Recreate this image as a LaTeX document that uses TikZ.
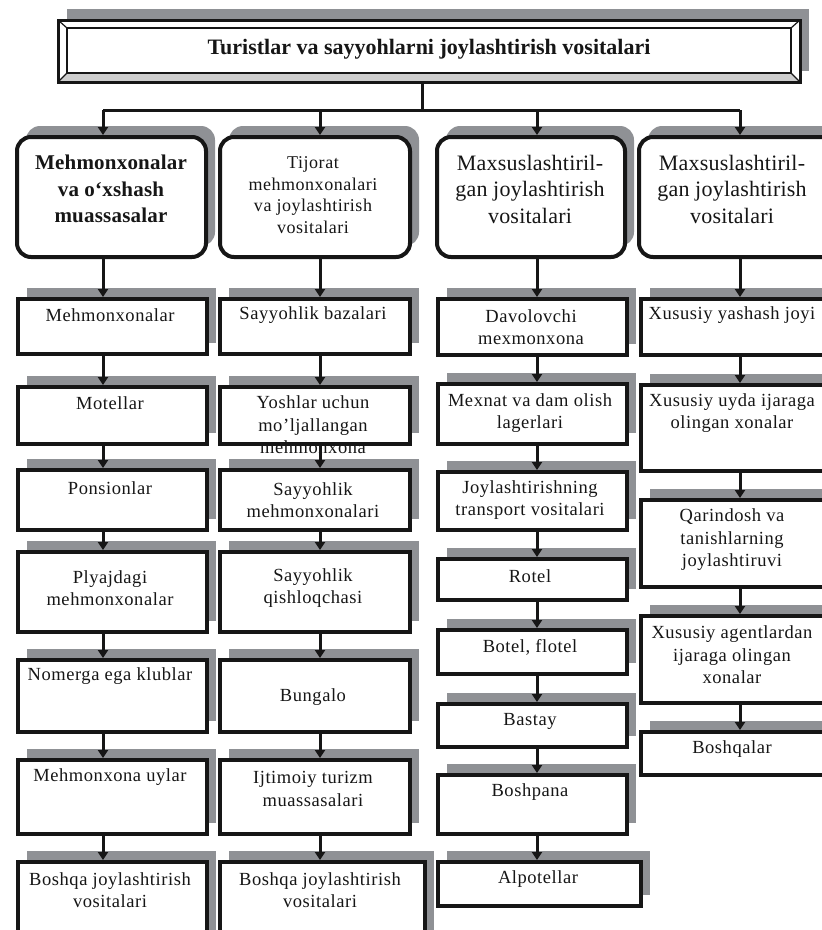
\documentclass[tikz,border=0pt]{standalone}
\usepackage{fontspec}
\setmainfont{Liberation Serif}
\newfontfamily\kfam[LetterSpace=3]{Liberation Serif}
\newfontfamily\hfam[LetterSpace=1]{Liberation Serif}
\usetikzlibrary{arrows.meta,shadows}
\definecolor{ink}{RGB}{22,22,22}
\definecolor{shgray}{RGB}{143,145,149}
\definecolor{bandgray}{RGB}{205,205,205}
\tikzset{
  ln/.style={draw=ink, line width=3pt},
  arr/.style={ln, -{Triangle[width=10pt,length=8pt]}},
  kbox/.style={draw=ink, line width=3.5pt, fill=white, anchor=north west,
    drop shadow={shadow xshift=9pt, shadow yshift=11pt, fill=shgray, opacity=1}},
  lbox/.style={kbox, rounded corners=14pt, line width=4pt},
  ttl/.style={kbox, line width=3pt, outer sep=0pt},
  ktxt/.style={font=\kfam\fontsize{18.5}{22.5}\selectfont, align=center, inner sep=0pt, text=ink},
  htxt/.style={font=\hfam\fontsize{22}{26.5}\selectfont, align=center, inner sep=0pt, text=ink}
}
\begin{document}
\begin{tikzpicture}[x=1pt, y=-1pt]
  \useasboundingbox[fill=white] (0,0) rectangle (822,930);
  \clip (0,0) rectangle (822,930);

  \node[ttl, minimum width=742pt, minimum height=62pt] (tt) at (58,20) {};
  \fill[bandgray] (tt.south west) -- (tt.south east) -- ([shift={(-9,-9)}]tt.south east) -- ([shift={(9,-9)}]tt.south west) -- cycle;
  \draw[ink, line width=3pt] (tt.north west) rectangle (tt.south east);
  \draw[ink, line width=2.5pt] ([shift={(9,8)}]tt.north west) rectangle ([shift={(-9,-9)}]tt.south east);
  \draw[ink, line width=1.2pt] (tt.north west) -- +(9,8) (tt.north east) -- +(-9,8)
    (tt.south west) -- +(9,-9) (tt.south east) -- +(-9,-9);
  \node[font=\bfseries\fontsize{22}{26}\selectfont, text=ink] (ttt) at (429,49) {Turistlar va sayyohlarni joylashtirish vositalari};

  \node[lbox, minimum width=189pt, minimum height=120pt] (l1) at (15,135) {};
  \node[lbox, minimum width=190pt, minimum height=120pt] (l2) at (218,135) {};
  \node[lbox, minimum width=188pt, minimum height=120pt] (l3) at (435,135) {};
  \node[lbox, minimum width=206pt, minimum height=120pt] (l4) at (637,135) {};
  \node[htxt, font=\hfam\bfseries\fontsize{21}{26.5}\selectfont] (l1t) at (111,189) {Mehmonxonalar\\va o‘xshash\\muassasalar};
  \node[ktxt, font=\kfam\fontsize{18}{21.7}\selectfont] (l2t) at (313,195) {Tijorat\\mehmonxonalari\\va joylashtirish\\vositalari};
  \node[htxt] (l3t) at (530,189) {Maxsuslashtiril-\\gan joylashtirish\\vositalari};
  \node[htxt] (l4t) at (732,189) {Maxsuslashtiril-\\gan joylashtirish\\vositalari};

  \node[kbox, minimum width=189pt, minimum height=55pt] (k11) at (16,297) {};
  \node[ktxt] (k11t) at (110,315) {Mehmonxonalar};
  \node[kbox, minimum width=189pt, minimum height=57pt] (k12) at (16,385) {};
  \node[ktxt] (k12t) at (110,403) {Motellar};
  \node[kbox, minimum width=189pt, minimum height=60pt] (k13) at (16,468) {};
  \node[ktxt] (k13t) at (110,488) {Ponsionlar};
  \node[kbox, minimum width=189pt, minimum height=80pt] (k14) at (16,550) {};
  \node[ktxt] (k14t) at (110,588) {Plyajdagi\\mehmonxonalar};
  \node[kbox, minimum width=189pt, minimum height=72pt] (k15) at (16,658) {};
  \node[ktxt] (k15t) at (110,676) {Nomerga ega klublar};
  \node[kbox, minimum width=189pt, minimum height=74pt] (k16) at (16,758) {};
  \node[ktxt] (k16t) at (110,777) {Mehmonxona uylar};
  \node[kbox, minimum width=189pt, minimum height=90pt] (k17) at (16,860) {};
  \node[ktxt] (k17t) at (110,890) {Boshqa joylashtirish\\vositalari};

  \node[kbox, minimum width=190pt, minimum height=55pt] (k21) at (218,297) {};
  \node[ktxt] (k21t) at (313,315) {Sayyohlik bazalari};
  \node[kbox, minimum width=190pt, minimum height=57pt] (k22) at (218,385) {};
  \node[ktxt] (k22t) at (313,425) {Yoshlar uchun\\mo’ljallangan\\mehmonxona};
  \node[kbox, minimum width=190pt, minimum height=60pt] (k23) at (218,468) {};
  \node[ktxt] (k23t) at (313,500) {Sayyohlik\\mehmonxonalari};
  \node[kbox, minimum width=190pt, minimum height=80pt] (k24) at (218,550) {};
  \node[ktxt] (k24t) at (313,588) {Sayyohlik\\qishloqchasi};
  \node[kbox, minimum width=190pt, minimum height=72pt] (k25) at (218,658) {};
  \node[ktxt] (k25t) at (313,697) {Bungalo};
  \node[kbox, minimum width=190pt, minimum height=74pt] (k26) at (218,758) {};
  \node[ktxt] (k26t) at (313,789) {Ijtimoiy turizm\\muassasalari};
  \node[kbox, minimum width=205pt, minimum height=90pt] (k27) at (218,860) {};
  \node[ktxt] (k27t) at (320,890) {Boshqa joylashtirish\\vositalari};

  \node[kbox, minimum width=189pt, minimum height=56pt] (k31) at (436,297) {};
  \node[ktxt] (k31t) at (531,327) {Davolovchi\\mexmonxona};
  \node[kbox, minimum width=189pt, minimum height=60pt] (k32) at (436,382) {};
  \node[ktxt] (k32t) at (530,413) {Mexnat va dam olish\\lagerlari};
  \node[kbox, minimum width=189pt, minimum height=58pt] (k33) at (436,470) {};
  \node[ktxt] (k33t) at (530,500) {Joylashtirishning\\transport vositalari};
  \node[kbox, minimum width=189pt, minimum height=41pt] (k34) at (436,557) {};
  \node[ktxt] (k34t) at (530,576) {Rotel};
  \node[kbox, minimum width=189pt, minimum height=44pt] (k35) at (436,628) {};
  \node[ktxt] (k35t) at (530,647) {Botel, flotel};
  \node[kbox, minimum width=189pt, minimum height=43pt] (k36) at (436,702) {};
  \node[ktxt] (k36t) at (530,721) {Bastay};
  \node[kbox, minimum width=189pt, minimum height=59pt] (k37) at (436,773) {};
  \node[ktxt] (k37t) at (530,792) {Boshpana};
  \node[kbox, minimum width=203pt, minimum height=44pt] (k38) at (436,860) {};
  \node[ktxt] (k38t) at (538,879) {Alpotellar};

  \node[kbox, minimum width=204pt, minimum height=56pt] (k41) at (639,297) {};
  \node[ktxt] (k41t) at (732,315) {Xususiy yashash joyi};
  \node[kbox, minimum width=204pt, minimum height=86pt] (k42) at (639,383) {};
  \node[ktxt] (k42t) at (732,413) {Xususiy uyda ijaraga\\olingan xonalar};
  \node[kbox, minimum width=204pt, minimum height=87pt] (k43) at (639,498) {};
  \node[ktxt] (k43t) at (732,540) {Qarindosh va\\tanishlarning\\joylashtiruvi};
  \node[kbox, minimum width=204pt, minimum height=87pt] (k44) at (639,614) {};
  \node[ktxt] (k44t) at (732,655) {Xususiy agentlardan\\ijaraga olingan\\xonalar};
  \node[kbox, minimum width=204pt, minimum height=43pt] (k45) at (639,730) {};
  \node[ktxt] (k45t) at (732,749) {Boshqalar};

  \coordinate (x1) at (103,0);
  \coordinate (x2) at (320,0);
  \coordinate (x3) at (537,0);
  \coordinate (x4) at (740,0);
  \coordinate (hub) at (422,110);

  \draw[ln] (tt.south -| hub) -- (hub);
  \draw[ln] (hub -| x1) -- (hub -| x4);
  \draw[arr] (hub -| x1) -- (l1.north -| x1);
  \draw[arr] (hub -| x2) -- (l2.north -| x2);
  \draw[arr] (hub -| x3) -- (l3.north -| x3);
  \draw[arr] (hub -| x4) -- (l4.north -| x4);

  \draw[arr] (l1.south -| x1) -- (k11.north -| x1);
  \draw[arr] (k11.south -| x1) -- (k12.north -| x1);
  \draw[arr] (k12.south -| x1) -- (k13.north -| x1);
  \draw[arr] (k13.south -| x1) -- (k14.north -| x1);
  \draw[arr] (k14.south -| x1) -- (k15.north -| x1);
  \draw[arr] (k15.south -| x1) -- (k16.north -| x1);
  \draw[arr] (k16.south -| x1) -- (k17.north -| x1);

  \draw[arr] (l2.south -| x2) -- (k21.north -| x2);
  \draw[arr] (k21.south -| x2) -- (k22.north -| x2);
  \draw[arr] (k22.south -| x2) -- (k23.north -| x2);
  \draw[arr] (k23.south -| x2) -- (k24.north -| x2);
  \draw[arr] (k24.south -| x2) -- (k25.north -| x2);
  \draw[arr] (k25.south -| x2) -- (k26.north -| x2);
  \draw[arr] (k26.south -| x2) -- (k27.north -| x2);

  \draw[arr] (l3.south -| x3) -- (k31.north -| x3);
  \draw[arr] (k31.south -| x3) -- (k32.north -| x3);
  \draw[arr] (k32.south -| x3) -- (k33.north -| x3);
  \draw[arr] (k33.south -| x3) -- (k34.north -| x3);
  \draw[arr] (k34.south -| x3) -- (k35.north -| x3);
  \draw[arr] (k35.south -| x3) -- (k36.north -| x3);
  \draw[arr] (k36.south -| x3) -- (k37.north -| x3);
  \draw[arr] (k37.south -| x3) -- (k38.north -| x3);

  \draw[arr] (l4.south -| x4) -- (k41.north -| x4);
  \draw[arr] (k41.south -| x4) -- (k42.north -| x4);
  \draw[arr] (k42.south -| x4) -- (k43.north -| x4);
  \draw[arr] (k43.south -| x4) -- (k44.north -| x4);
  \draw[arr] (k44.south -| x4) -- (k45.north -| x4);
\end{tikzpicture}
\end{document}
